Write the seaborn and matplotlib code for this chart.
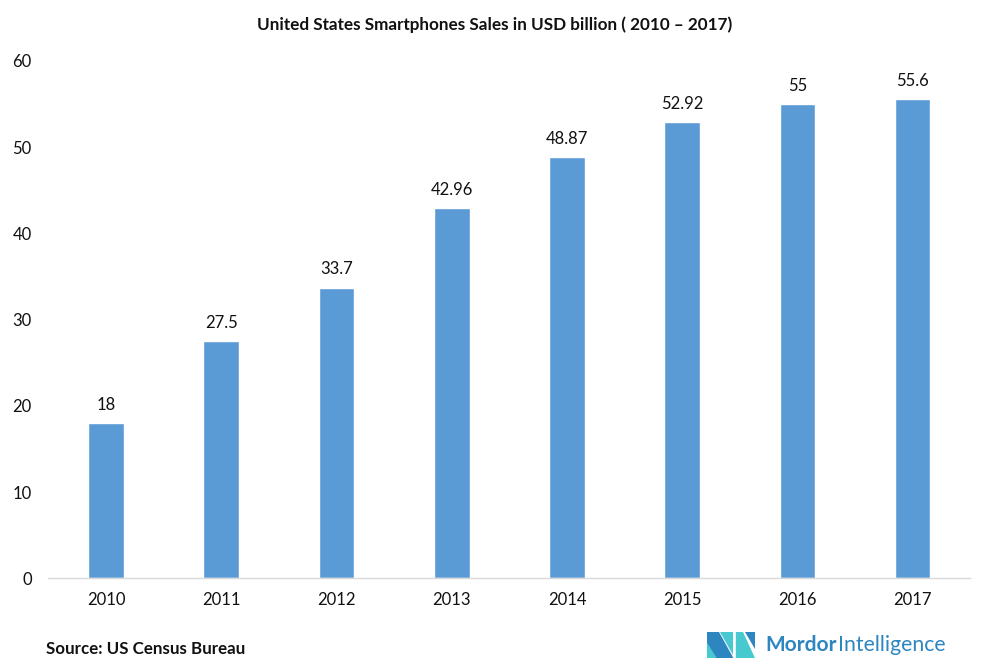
import matplotlib
matplotlib.use('Agg')
import matplotlib.pyplot as plt
from matplotlib.patches import Polygon
import pandas as pd
import seaborn as sns

years = ['2010', '2011', '2012', '2013', '2014', '2015', '2016', '2017']
sales = [18, 27.5, 33.7, 42.96, 48.87, 52.92, 55, 55.6]
value_labels = ['18', '27.5', '33.7', '42.96', '48.87', '52.92', '55', '55.6']

sns.set_style('white')
plt.rcParams['font.family'] = ['Lato', 'DejaVu Sans']

df = pd.DataFrame({'Year': years, 'Sales': sales})

fig = plt.figure(figsize=(9.89, 6.7), dpi=100)
ax = fig.add_axes([0.049, 0.137, 0.932, 0.772])
sns.barplot(data=df, x='Year', y='Sales', color='#5B9BD5', width=0.31,
            saturation=1, ax=ax)

for i, (v, lab) in enumerate(zip(sales, value_labels)):
    ax.text(i, v + 1.2, lab, ha='center', va='bottom', fontsize=12, color='#111111')

ax.set_xlim(-0.5, 7.5)
ax.set_ylim(0, 60)
ax.set_yticks(range(0, 61, 10))
ax.set_xlabel('')
ax.set_ylabel('')
for s in ['top', 'right', 'left']:
    ax.spines[s].set_visible(False)
ax.spines['bottom'].set_color('#D9D9D9')
ax.spines['bottom'].set_linewidth(1)
ax.tick_params(axis='both', length=0, labelsize=12, colors='#111111')
ax.tick_params(axis='x', pad=10)
ax.tick_params(axis='y', pad=12)

fig.text(0.5, 0.963, 'United States Smartphones Sales in USD billion ( 2010 \u2013 2017)',
         ha='center', va='center', fontsize=12.3, fontweight='bold', color='#111111')
fig.text(0.047, 0.032, 'Source: US Census Bureau', ha='left', va='center',
         fontsize=12.2, fontweight='bold', color='#111111')

# logo
dark, light = '#2E86C1', '#48C9D0'
lx, ly, lw, lh = 707 / 989, 1 - 658 / 670, 48 / 989, 26 / 670
def P(pts, c):
    fig.patches.append(Polygon([(lx + px * lw, ly + py * lh) for px, py in pts],
                               closed=True, transform=fig.transFigure,
                               facecolor=c, edgecolor='none'))
P([(0, 0), (0, 1), (0.25, 1), (0.55, 0)], dark)
P([(0, 0), (0.2, 0), (0, 0.6)], light)
P([(0.28, 1), (0.55, 1), (0.55, 0.1)], light)
P([(0.6, 0), (0.6, 1), (0.75, 1), (1.0, 0)], light)
P([(0.8, 1), (1.0, 1), (1.0, 0.35)], dark)
fig.text(765 / 989, 1 - 645 / 670, 'Mordor', ha='left', va='center', fontsize=15,
         fontweight='bold', color=dark)
fig.text(838 / 989, 1 - 645 / 670, 'Intelligence', ha='left', va='center',
         fontsize=15.3, color=dark)

fig.savefig('out.png', dpi=100)
